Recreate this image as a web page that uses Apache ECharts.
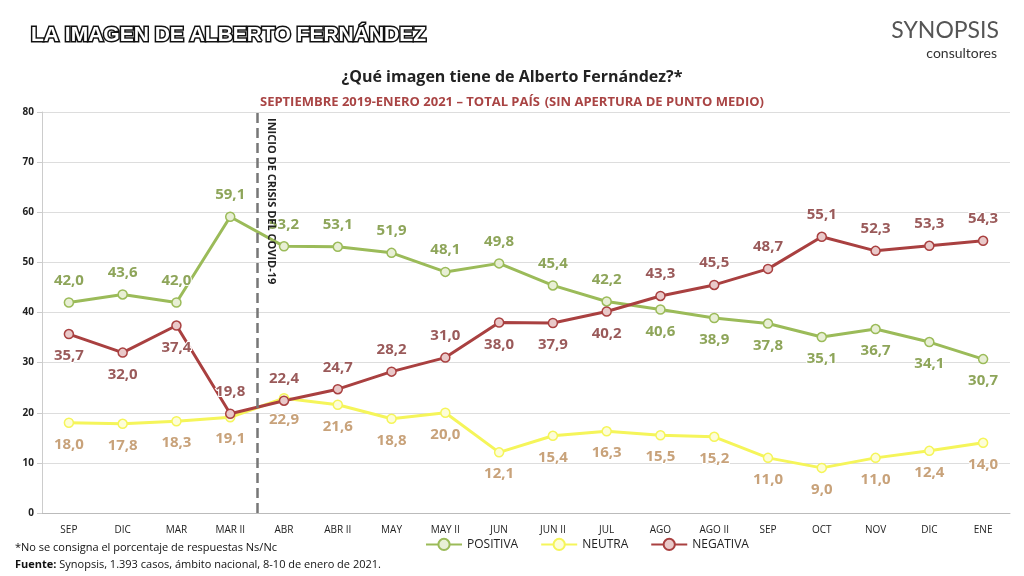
<!DOCTYPE html>
<html><head><meta charset="utf-8">
<script src="https://cdn.jsdelivr.net/npm/echarts@6/dist/echarts.min.js"></script>
<style>html,body{margin:0;padding:0;background:#fff}#c{width:1024px;height:576px}</style>
</head><body><div id="c"></div>
<script>
// datos
const categorias = ['SEP','DIC','MAR','MAR II','ABR','ABR II','MAY','MAY II','JUN','JUN II','JUL','AGO','AGO II','SEP','OCT','NOV','DIC','ENE'];
const positiva = [42.0,43.6,42.0,59.1,53.2,53.1,51.9,48.1,49.8,45.4,42.2,40.6,38.9,37.8,35.1,36.7,34.1,30.7];
const neutra = [18.0,17.8,18.3,19.1,22.9,21.6,18.8,20.0,12.1,15.4,16.3,15.5,15.2,11.0,9.0,11.0,12.4,14.0];
const negativa = [35.7,32.0,37.4,19.8,22.4,24.7,28.2,31.0,38.0,37.9,40.2,43.3,45.5,48.7,55.1,52.3,53.3,54.3];
// posición de etiquetas: 1 = arriba, 0 = abajo
const posPositiva = [1,1,1,1,1,1,1,1,1,1,1,0,0,0,0,0,0,0];
const posNegativa = [0,0,0,1,1,1,1,1,0,0,0,1,1,1,1,1,1,1];

const fmt = v => v.toFixed(1).replace('.', ',');
function serie(name, vals, pos, line, fill, txt) {
  return {
    name, type: 'line', data: vals.map((v, i) => ({
      value: v, label: { position: pos ? (pos[i] ? 'top' : 'bottom') : 'bottom' }
    })),
    symbol: 'circle', symbolSize: 9,
    lineStyle: { color: line, width: 3 },
    itemStyle: { color: fill, borderColor: line, borderWidth: 1.5 },
    label: { show: true, formatter: p => fmt(p.value), fontSize: 15, fontWeight: 'bold',
      color: txt, distance: 9, textBorderColor: '#fff', textBorderWidth: 2, fontFamily: 'Open Sans' },
    z: 3
  };
}

const chart = echarts.init(document.getElementById('c'));
chart.setOption({
  animation: false,
  textStyle: { fontFamily: 'Open Sans' },
  title: [
    { text: 'LA IMAGEN DE ALBERTO FERNÁNDEZ', left: 26, top: 20,
      textStyle: { fontSize: 21, fontWeight: 'bold', color: '#fff', textBorderColor: '#111', textBorderWidth: 3, fontFamily: 'Liberation Sans' } },
    { text: '¿Qué imagen tiene de Alberto Fernández?*', left: 'center', top: 64,
      textStyle: { fontSize: 16, fontWeight: 'bold', color: '#222' } },
    { text: '{a|SEPTIEMBRE 2019-ENERO 2021 – TOTAL PAÍS} {b|(SIN APERTURA DE PUNTO MEDIO)}', left: 'center', top: 88,
      textStyle: { rich: { a: { fontSize: 13, fontWeight: 'bold', color: '#a94444' }, b: { fontSize: 13, color: '#a94444' } } } },
    { text: 'SYNOPSIS', right: 20, top: 14, textStyle: { fontSize: 23, color: '#555', fontWeight: 'normal', fontFamily: 'Lato' } },
    { text: 'consultores', right: 22, top: 41, textStyle: { fontSize: 14, color: '#333', fontWeight: 'normal', fontFamily: 'Lato' } },
    { text: '*No se consigna el porcentaje de respuestas Ns/Nc', left: 10, top: 537, textStyle: { fontSize: 11, color: '#111', fontWeight: 'normal' } },
    { text: '{b|Fuente:} Synopsis, 1.393 casos, ámbito nacional, 8-10 de enero de 2021.', left: 10, top: 554,
      textStyle: { fontSize: 11, color: '#111', fontWeight: 'normal', rich: { b: { fontWeight: 'bold', fontSize: 11 } } } }
  ],
  graphic: [{ type: 'text', x: 277, y: 118, rotation: -Math.PI / 2, z: 10,
    style: { text: 'INICIO DE CRISIS DEL COVID-19', fontSize: 11, fontWeight: 'bold', fill: '#222', fontFamily: 'Open Sans' } }],
  legend: { bottom: 20, left: 420, itemWidth: 36, itemGap: 22, textStyle: { fontSize: 12, color: '#222' },
    data: ['POSITIVA', 'NEUTRA', 'NEGATIVA'] },
  grid: { left: 42, right: 14, top: 112, bottom: 63 },
  xAxis: [
    { type: 'category', data: categorias, axisTick: { show: false },
      axisLine: { lineStyle: { color: '#bbb' } }, axisLabel: { color: '#222', fontSize: 10, margin: 12 } },
    { type: 'value', min: -0.5, max: 17.5, show: false }
  ],
  yAxis: { type: 'value', min: 0, max: 80, interval: 10,
    axisLine: { show: true, onZero: false, lineStyle: { color: '#ccc' } },
    axisLabel: { color: '#222', fontSize: 10, fontWeight: 'bold' },
    splitLine: { lineStyle: { color: '#ddd' } } },
  series: [
    serie('POSITIVA', positiva, posPositiva, '#9bbb59', '#e8efd5', '#8ea55a'),
    serie('NEUTRA', neutra, null, '#f5f55a', '#fdfdd8', '#c8a27a'),
    serie('NEGATIVA', negativa, posNegativa, '#a94040', '#e9c9c9', '#9a5a5a'),
    { type: 'line', xAxisIndex: 1, data: [], silent: true,
      markLine: { symbol: 'none', silent: true, data: [{ xAxis: 3.5 }], label: { show: false },
        lineStyle: { type: 'dashed', color: '#777', width: 2.5 } } }
  ]
});
</script></body></html>
